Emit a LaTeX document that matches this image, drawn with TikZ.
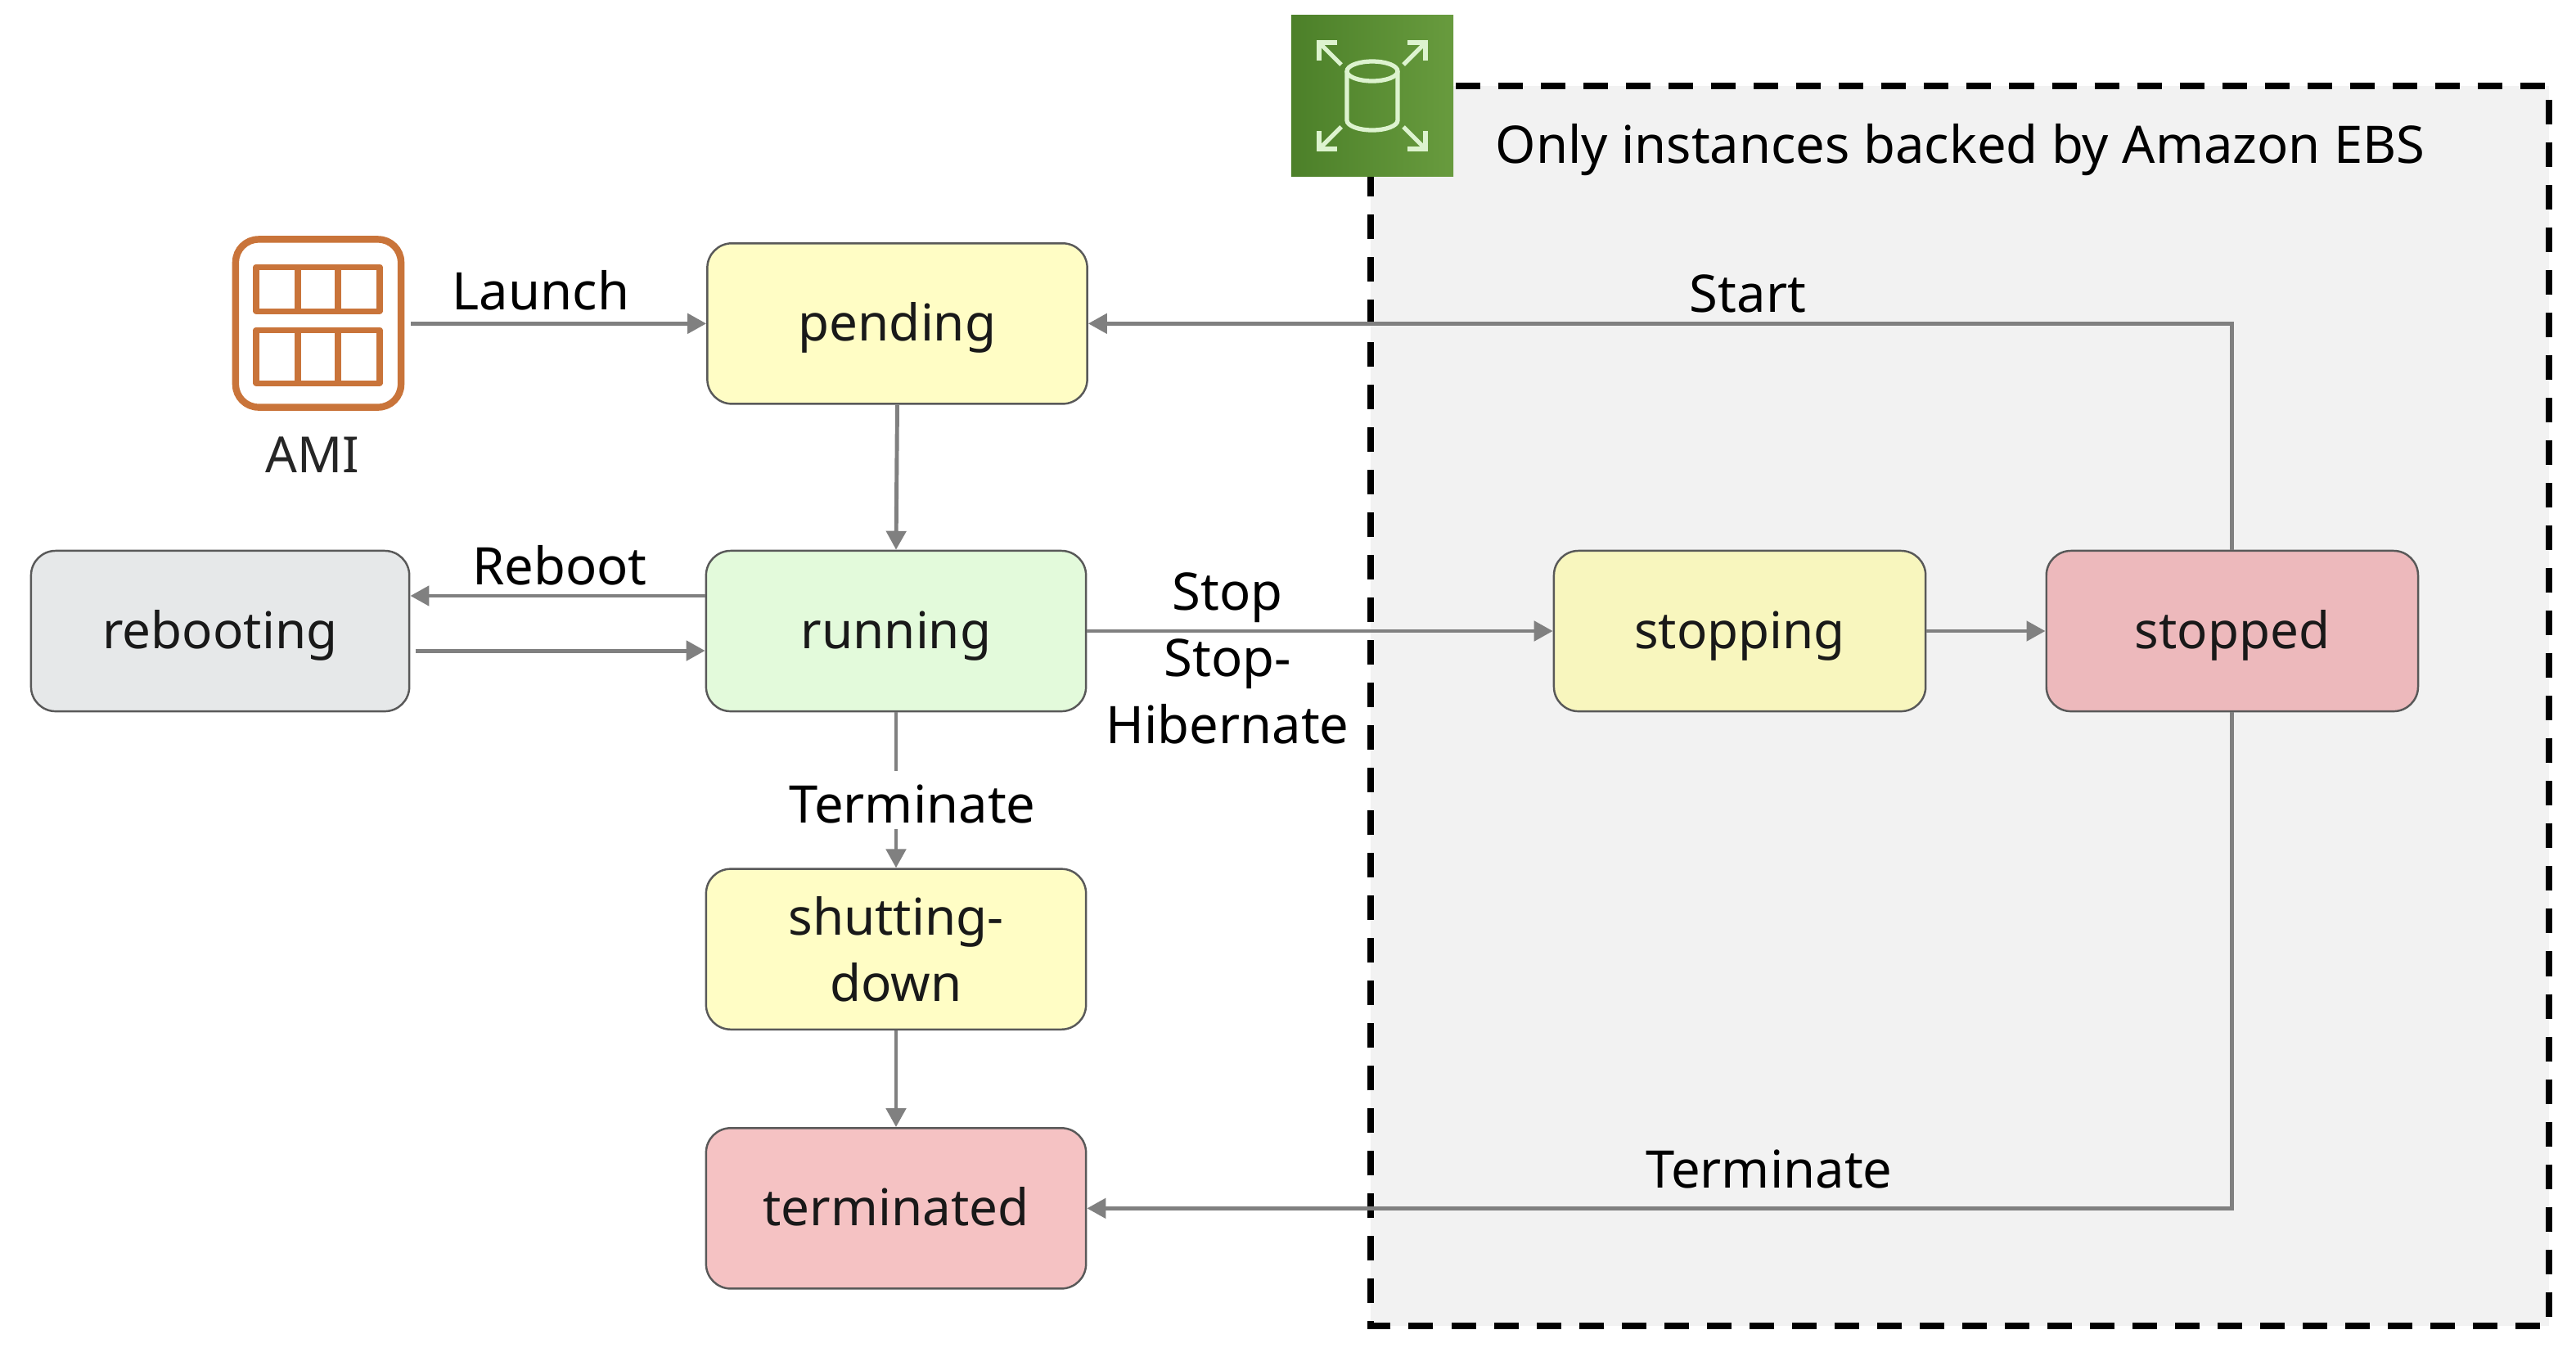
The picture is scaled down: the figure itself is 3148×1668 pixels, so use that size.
\documentclass[tikz,border=0pt]{standalone}
\usepackage{xcolor}
\usepackage{fontspec}
\setmainfont{Noto Sans}
\usetikzlibrary{arrows.meta, positioning}

\definecolor{boxyellow}{HTML}{FFFDC5}
\definecolor{boxyellowgrey}{HTML}{F8F6BE}
\definecolor{boxgreen}{HTML}{E3FADB}
\definecolor{boxgrey}{HTML}{E6E8E9}
\definecolor{boxred}{HTML}{F5C2C3}
\definecolor{boxredgrey}{HTML}{EDB9BC}
\definecolor{linegrey}{HTML}{808080}
\definecolor{amiorange}{HTML}{C9743A}
\definecolor{ebsback}{HTML}{F2F2F2}
\definecolor{ebslight}{HTML}{DDF3CF}
\definecolor{ebsdark}{HTML}{4C8029}
\definecolor{ebsmid}{HTML}{689B3E}

\begin{document}
\begin{tikzpicture}[x=0.01cm, y=-0.01cm]
\tikzstyle{statebase} = [rectangle, draw=black!65, line width=0.7pt, text=black!90, text width=3.6cm, align=center, minimum width=4.64cm, minimum height=1.96cm, rounded corners=0.3cm, font=\fontsize{17.6}{22.8}\selectfont]
\tikzstyle{state} = [statebase, text height=13.6pt, text depth=1.4pt]
\tikzstyle{arrow} = [line width=1.4pt, linegrey, ->, >={Triangle[length=0.23cm, width=0.24cm]}]
\tikzstyle{label} = [inner sep=0pt, text=black, align=center, font=\fontsize{18}{23.3}\selectfont]
\tikzstyle{amigrid} = [draw=amiorange, line width=2pt, line join=round]
\tikzstyle{ebsicon} = [draw=ebslight, line width=1.5pt]

\useasboundingbox (0,0) rectangle (3148,1668);

% region for EBS backed instances
\fill [ebsback] (1675,105) rectangle (3115,1620);
\draw [line width=2.3pt, dash pattern=on 0.3cm off 0.22cm] (1675,105) -- (3115,105) -- (3115,1620) -- (1675,1620) -- cycle;
\node (ebstext) [label, anchor=base west] at (1827,199) {Only instances backed by Amazon EBS};

% EBS icon
\node (ebs) [rectangle, minimum width=1.98cm, minimum height=1.96cm, inner sep=0pt, left color=ebsdark, right color=ebsmid] at (1677,117) {};
\draw [ebsicon] (1646,87) -- (1646,147) arc [start angle=180, end angle=0, x radius=31, y radius=12] -- (1708,87);
\draw [ebsicon] (1677,87) ellipse [x radius=31, y radius=12];
\foreach \sx/\sy in {1/1, -1/1, 1/-1, -1/-1} {
  \draw [ebsicon, shift={(1677,117)}] (\sx*38,\sy*38) -- (\sx*65,\sy*65);
  \draw [ebsicon, shift={(1677,117)}] (\sx*65,\sy*43) -- (\sx*65,\sy*65) -- (\sx*43,\sy*65);
}

% states
\node (running) [state, fill=boxgreen] at (1095,771) {running};
\node (pending) [state, fill=boxyellow, above=1.77cm of running, xshift=0.015cm] {pending};
\node (rebooting) [state, fill=boxgrey, minimum width=4.62cm, left=3.60cm of running] {rebooting};
\node (shutting) [statebase, fill=boxyellow, below=1.90cm of running] {shutting-\\down};
\node (terminated) [state, fill=boxred, below=1.18cm of shutting] {terminated};
\node (stopping) [state, fill=boxyellowgrey, minimum width=4.54cm, right=5.69cm of running] {stopping};
\node (stopped) [state, fill=boxredgrey, minimum width=4.54cm, right=1.45cm of stopping] {stopped};

% AMI icon
\node (ami) [rectangle, draw=amiorange, line width=2.4pt, minimum width=2.02cm, minimum height=2.05cm, rounded corners=0.28cm] at (389,395) {};
\draw [amigrid] (313,326) rectangle (464,380);
\draw [amigrid] (313,403) rectangle (464,468);
\foreach \x in {364,413} {
  \draw [amigrid] (\x,326) -- (\x,380);
  \draw [amigrid] (\x,403) -- (\x,468);
}
\node (amitext) [label, anchor=base, text=black!85, font=\fontsize{17.3}{22}\selectfont] at (382,577) {AMI};

% connectors
\draw [arrow, shorten <=0.08cm] (ami.east |- pending.west) -- (pending.west);
\draw [arrow] (pending.south) -- (running.north);
\draw [arrow] ([yshift=0.43cm]running.west) -- ([yshift=0.43cm]rebooting.east);
\draw [arrow, shorten <=0.07cm] ([yshift=-0.24cm]rebooting.east) -- ([yshift=-0.24cm]running.west);
\draw [arrow] (running.east) -- (stopping.west);
\draw [arrow] (stopping.east) -- (stopped.west);
\draw [arrow] (running.south) -- (shutting.north);
\draw [arrow] (shutting.south) -- (terminated.north);
\draw [arrow] (stopped.north) |- (pending.east);
\draw [arrow] (stopped.south) |- (terminated.east);

% connector labels
\node (launch) [label, anchor=base] at (661,378) {Launch};
\node (reboot) [label, anchor=base] at (684,714) {Reboot};
\node (stop) [label, anchor=base] at (1500,745) {Stop};
\node (hibernate) [label, anchor=center] at (1500,845) {Stop-\\Hibernate};
\node (terminate) [label, anchor=base, fill=white, inner ysep=2pt, text height=16pt] at (1115,1005) {Terminate};
\node (start) [label, anchor=base] at (2136,381) {Start};
\node (terminatetwo) [label, anchor=base] at (2162,1451) {Terminate};
\end{tikzpicture}
\end{document}
